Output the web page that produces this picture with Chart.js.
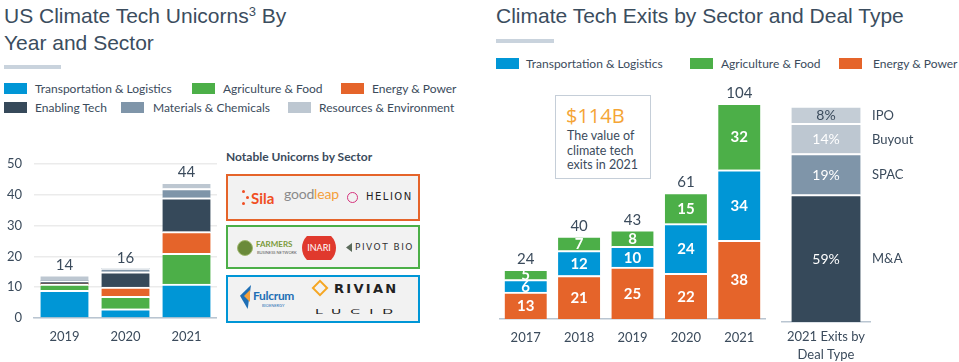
<!DOCTYPE html>
<html><head><meta charset="utf-8">
<script src="https://cdn.jsdelivr.net/npm/chart.js@4/dist/chart.umd.min.js"></script>
<style>
html,body{margin:0;padding:0;background:#fff;}
#root{position:relative;width:959px;height:362px;overflow:hidden;background:#fff;font-family:Lato,"Noto Sans",sans-serif;color:#3b4b5c;}
.abs{position:absolute;white-space:nowrap;}
.title{font-family:"Liberation Sans",Arial,sans-serif;font-size:21px;line-height:27px;color:#3b4d5e;}
.rule{position:absolute;height:4px;background:#c9d3dd;}
.sw{position:absolute;width:23px;height:11px;}
.lg{position:absolute;font-size:12px;line-height:14px;white-space:nowrap;color:#3b4b5c;}
.box{position:absolute;box-sizing:border-box;border:2px solid;background:#f2f2f2;}
canvas{position:absolute;}
</style></head>
<body><div id="root">
<div class="abs title" style="left:4px;top:2px;">US Climate Tech Unicorns<span style="font-size:13px;line-height:0;position:relative;top:-7px;">3</span> By<br>Year and Sector</div>
<div class="rule" style="left:4px;top:65px;width:57px;"></div>
<div class="sw" style="left:4px;top:83px;background:#0096d6"></div><div class="lg" style="left:35px;top:82px;">Transportation &amp; Logistics</div>
<div class="sw" style="left:192px;top:83px;background:#4caf48"></div><div class="lg" style="left:223px;top:82px;">Agriculture &amp; Food</div>
<div class="sw" style="left:341px;top:83px;background:#e5642a"></div><div class="lg" style="left:372px;top:82px;">Energy &amp; Power</div>
<div class="sw" style="left:4px;top:102px;background:#36495a"></div><div class="lg" style="left:35px;top:101px;">Enabling Tech</div>
<div class="sw" style="left:121px;top:102px;background:#7f95a9"></div><div class="lg" style="left:153px;top:101px;">Materials &amp; Chemicals</div>
<div class="sw" style="left:288px;top:102px;background:#bdc7d1"></div><div class="lg" style="left:319px;top:101px;">Resources &amp; Environment</div>

<div class="abs" style="left:226px;top:150px;font-size:12px;font-weight:bold;line-height:14px;color:#3b4b5c;">Notable Unicorns by Sector</div>
<div class="box" style="left:226px;top:174px;width:194px;height:47px;border-color:#e5642a;"></div>
<div class="box" style="left:226px;top:225px;width:194px;height:44px;border-color:#4caf48;"></div>
<div class="box" style="left:226px;top:275px;width:194px;height:48px;border-color:#0096d6;"></div>
<!-- logos row 1 -->
<div class="abs" style="left:242px;top:190px;width:3px;height:3px;border-radius:50%;background:#f04e23"></div>
<div class="abs" style="left:246px;top:196px;width:3px;height:3px;border-radius:50%;background:#f04e23"></div>
<div class="abs" style="left:242px;top:202px;width:3px;height:3px;border-radius:50%;background:#f04e23"></div>
<div class="abs" style="left:251px;top:189px;font-size:15px;line-height:18px;font-weight:bold;color:#f04e23;">Sila</div>
<div class="abs" style="left:284px;top:186px;font-size:14px;line-height:16px;color:#8a8a8a;letter-spacing:-0.2px;">good<span style="color:#f5a03a">leap</span></div>
<div class="abs" style="left:347px;top:192px;width:9px;height:9px;border:1.5px solid #d6337d;border-radius:50%;"></div>
<div class="abs" style="left:366px;top:191px;font-size:10px;line-height:12px;letter-spacing:1.5px;color:#222;font-family:'DejaVu Sans';">HELION</div>
<!-- logos row 2 -->
<div class="abs" style="left:237px;top:240px;width:16px;height:16px;border-radius:50%;background:#6a8a3a;border:1px solid #a0b870;box-sizing:border-box;"></div>
<div class="abs" style="left:256px;top:239px;font-size:8px;line-height:10px;font-weight:bold;color:#7a9a3a;">FARMERS</div>
<div class="abs" style="left:257px;top:250px;font-size:4px;line-height:5px;color:#555;">BUSINESS NETWORK</div>
<div class="abs" style="left:302px;top:236px;width:34px;height:24px;overflow:hidden;"><div style="position:absolute;left:0;top:-5px;width:34px;height:34px;border-radius:50%;background:#e0392d;"></div><div style="position:absolute;left:0;top:6px;width:34px;text-align:center;font-size:9px;line-height:11px;color:#fff;">INARI</div></div>
<div class="abs" style="left:346px;top:243px;width:6px;height:9px;background:#5b6b5b;clip-path:polygon(0 50%,100% 0,100% 100%);"></div>
<div class="abs" style="left:355px;top:242px;font-size:9px;line-height:11px;letter-spacing:1.5px;color:#333;font-family:'DejaVu Sans';">PIVOT BIO</div>
<!-- logos row 3 -->
<div class="abs" style="left:240px;top:285px;width:11px;height:24px;background:#1f6fb5;clip-path:polygon(100% 0,0 45%,70% 100%);"></div>
<div class="abs" style="left:244px;top:290px;width:6px;height:12px;background:#f5a03a;clip-path:polygon(100% 0,0 50%,100% 100%);"></div>
<div class="abs" style="left:253px;top:289px;font-size:12px;line-height:14px;font-weight:bold;color:#1f6fb5;letter-spacing:-0.3px;">Fulcrum</div>
<div class="abs" style="left:262px;top:303px;font-size:4px;line-height:5px;color:#1f6fb5;">BIOENERGY</div>
<div class="abs" style="left:314px;top:282px;width:12px;height:12px;border:2px solid #f5a623;transform:rotate(45deg);box-sizing:border-box;"></div>
<div class="abs" style="left:334px;top:281px;font-size:13px;line-height:15px;letter-spacing:2.3px;color:#222;font-family:'DejaVu Sans';font-weight:bold;">RIVIAN</div>
<div class="abs" style="left:315px;top:304px;font-size:14px;line-height:14px;letter-spacing:9px;color:#222;font-family:'DejaVu Sans';transform:scaleY(0.5);transform-origin:left center;">LUCID</div>

<canvas id="c1" width="217" height="210" style="left:0;top:144px;"></canvas>

<div class="abs title" style="left:496px;top:2px;">Climate Tech Exits by Sector and Deal Type</div>
<div class="rule" style="left:496px;top:39px;width:58px;"></div>
<div class="sw" style="left:496px;top:58px;background:#0096d6"></div><div class="lg" style="left:526px;top:57px;">Transportation &amp; Logistics</div>
<div class="sw" style="left:690px;top:58px;background:#4caf48"></div><div class="lg" style="left:721px;top:57px;">Agriculture &amp; Food</div>
<div class="sw" style="left:839px;top:58px;background:#e5642a"></div><div class="lg" style="left:873px;top:57px;">Energy &amp; Power</div>

<div class="abs" style="left:555px;top:95px;width:96px;height:84px;box-sizing:border-box;border:1.5px solid #c5ced8;"></div>
<div class="abs" style="left:566px;top:104px;font-family:'Open Sans';font-size:20px;line-height:24px;color:#f5a536;">$114B</div>
<div class="abs" style="left:567px;top:129px;font-size:12.5px;line-height:14.5px;color:#3b4b5c;">The value of<br>climate tech<br>exits in 2021</div>

<canvas id="c2" width="267" height="272" style="left:499px;top:81px;"></canvas>
<canvas id="c3" width="149" height="266" style="left:781px;top:96px;"></canvas>
</div>
<script>
// ---- data ----
const uniYears = ['2019', '2020', '2021'];
const uniTransport = [9, 3, 11];
const uniAgri = [2, 4, 10];
const uniEnergy = [0, 3, 7];
const uniEnabling = [1, 5, 11];
const uniMaterials = [0, 1, 3];
const uniResources = [2, 0, 2];
const uniTicks = [0, 10, 20, 30, 40, 50];

const exitYears = ['2017', '2018', '2019', '2020', '2021'];
const exitEnergy = [13, 21, 25, 22, 38];
const exitTransport = [6, 12, 10, 24, 34];
const exitAgri = [5, 7, 8, 15, 32];

const dealCategory = [['2021 Exits by', 'Deal Type']];
const dealTypes = ['M&A', 'SPAC', 'Buyout', 'IPO'];
const dealShares = [59, 19, 14, 8];

// ---- style ----
const FONT = 'Lato, "Noto Sans", sans-serif';
const TXT = '#3b4b5c';
const C = {blue:'#0096d6', green:'#4caf48', orange:'#e5642a', dark:'#36495a', mat:'#7f95a9', res:'#bdc7d1'};
Chart.defaults.font.family = FONT;
Chart.defaults.color = TXT;

const stackLabels = {
  id: 'stackLabels',
  afterDatasetsDraw(chart, args, o) {
    const ctx = chart.ctx;
    const n = chart.data.labels.length;
    ctx.save();
    ctx.textAlign = 'center';
    ctx.textBaseline = 'middle';
    for (let j = 0; j < n; j++) {
      let topY = null, xc = null, total = 0;
      chart.data.datasets.forEach((ds, i) => {
        const el = chart.getDatasetMeta(i).data[j];
        const v = ds.data[j];
        total += v;
        if (!v) return;
        xc = el.x;
        if (topY === null || el.y < topY) topY = el.y;
        const yc = (el.y + el.base) / 2 + 1;
        if (o.inside) {
          ctx.font = o.insideFont;
          ctx.fillStyle = (o.insideColors && o.insideColors[i]) || '#fff';
          ctx.fillText(v + (o.suffix || ''), el.x, yc);
        }
        if (o.side) {
          ctx.font = o.sideFont;
          ctx.fillStyle = TXT;
          ctx.textAlign = 'left';
          ctx.fillText(o.side[i], chart.chartArea.right + 2, yc);
          ctx.textAlign = 'center';
        }
      });
      if (o.totals && topY !== null) {
        ctx.font = o.totalFont;
        ctx.fillStyle = TXT;
        ctx.fillText(String(total), xc, topY - 10);
      }
    }
    ctx.restore();
  }
};

function ds(label, data, color) {
  return {label, data, backgroundColor: color, borderColor: '#fff',
    borderWidth: {top: 2, left: 0, right: 0, bottom: 0}, borderSkipped: 'start'};
}

const baseOpts = (extra) => Object.assign({
  responsive: false, animation: false, maintainAspectRatio: false,
  events: [],
}, extra);

new Chart(document.getElementById('c1'), {
  type: 'bar',
  data: {labels: uniYears, datasets: [
    ds('Transportation & Logistics', uniTransport, C.blue),
    ds('Agriculture & Food', uniAgri, C.green),
    ds('Energy & Power', uniEnergy, C.orange),
    ds('Enabling Tech', uniEnabling, C.dark),
    ds('Materials & Chemicals', uniMaterials, C.mat),
    ds('Resources & Environment', uniResources, C.res)
  ]},
  plugins: [stackLabels],
  options: baseOpts({
    layout: {padding: {top: 10, left: 0, right: 0, bottom: 0}},
    datasets: {bar: {barThickness: 48}},
    plugins: {legend: {display: false}, tooltip: {enabled: false},
      stackLabels: {totals: true, totalFont: '15px ' + FONT}},
    scales: {
      x: {stacked: true, grid: {display: false, drawTicks: false},
        border: {display: true, color: '#b9c5d1', width: 1.5},
        ticks: {padding: 11, font: {size: 13}, color: TXT},
        afterFit(a) { a.height = 36; }},
      y: {stacked: true, min: 0, max: 50,
        afterBuildTicks(a) { a.ticks = uniTicks.map(v => ({value: v})); },
        ticks: {padding: 12, font: {size: 13}, color: TXT},
        grid: {color: '#ebebeb', drawTicks: false, lineWidth: 1.5},
        border: {display: false},
        afterFit(a) { a.width = 34; }}
    }
  })
});

new Chart(document.getElementById('c2'), {
  type: 'bar',
  data: {labels: exitYears, datasets: [
    ds('Energy & Power', exitEnergy, C.orange),
    ds('Transportation & Logistics', exitTransport, C.blue),
    ds('Agriculture & Food', exitAgri, C.green)
  ]},
  plugins: [stackLabels],
  options: baseOpts({
    layout: {padding: {top: 10, left: 0, right: 0, bottom: 0}},
    datasets: {bar: {barThickness: 42}},
    plugins: {legend: {display: false}, tooltip: {enabled: false},
      stackLabels: {totals: true, totalFont: '15px ' + FONT, inside: true, insideFont: 'bold 15px ' + FONT}},
    scales: {
      x: {stacked: true, grid: {display: false, drawTicks: false},
        border: {display: true, color: '#b9c5d1', width: 1.5},
        ticks: {padding: 11, font: {size: 13}, color: TXT},
        afterFit(a) { a.height = 34; }},
      y: {stacked: true, min: 0, max: 110, display: false}
    }
  })
});

new Chart(document.getElementById('c3'), {
  type: 'bar',
  data: {labels: dealCategory, datasets: dealTypes.map((t, i) =>
    ds(t, [dealShares[i]], [C.dark, C.mat, C.res, '#c4cdd6'][i]))},
  plugins: [stackLabels],
  options: baseOpts({
    layout: {padding: {top: 10, left: 0, right: 60, bottom: 0}},
    datasets: {bar: {barThickness: 69}},
    plugins: {legend: {display: false}, tooltip: {enabled: false},
      stackLabels: {inside: true, suffix: '%', insideFont: '14px ' + FONT,
        insideColors: ['#fff', '#fff', '#fff', TXT], side: dealTypes, sideFont: '13px ' + FONT}},
    scales: {
      x: {stacked: true, grid: {display: false, drawTicks: false},
        border: {display: true, color: '#b9c5d1', width: 1.5},
        ticks: {padding: 6, font: {size: 13, lineHeight: 1.4}, color: TXT},
        afterFit(a) { a.height = 40; }},
      y: {stacked: true, min: 0, max: 100, display: false}
    }
  })
});
</script>
</body></html>
